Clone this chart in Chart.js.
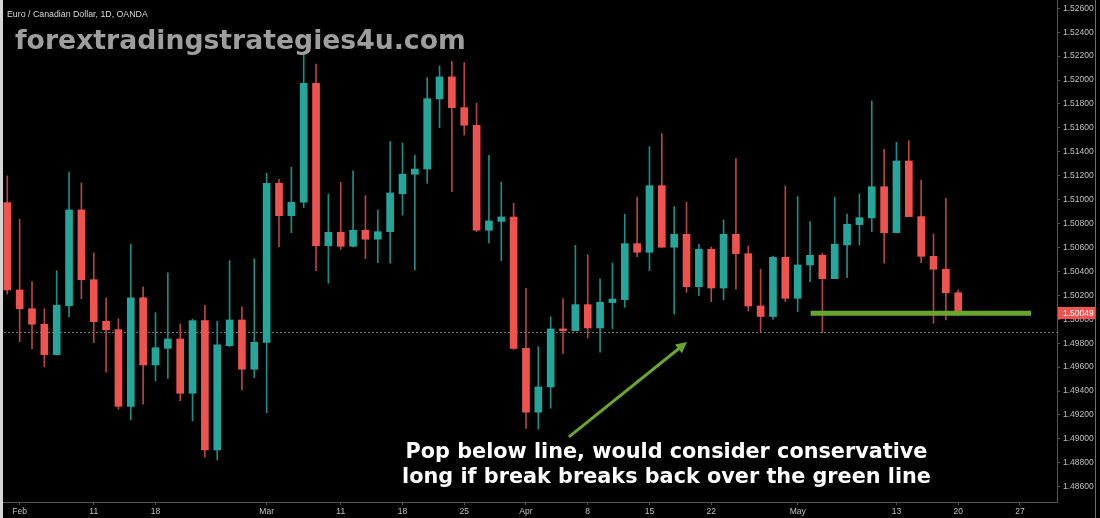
<!doctype html>
<html>
<head>
<meta charset="UTF-8" />
<title>Euro / Canadian Dollar, 1D</title>
<script src="https://cdn.jsdelivr.net/npm/chart.js"></script>
<style>
  html, body { margin: 0; padding: 0; background: #000; }
  #wrap { width: 1100px; height: 518px; position: relative; }
</style>
</head>
<body>
<div id="wrap"><canvas id="myChart"></canvas></div>
<script>
// trading days, one candle each (x = index)
var dates = [
  '2019-01-31',
  '2019-02-01', '2019-02-04', '2019-02-05', '2019-02-06', '2019-02-07', '2019-02-08',
  '2019-02-11', '2019-02-12', '2019-02-13', '2019-02-14', '2019-02-15',
  '2019-02-18', '2019-02-19', '2019-02-20', '2019-02-21', '2019-02-22',
  '2019-02-25', '2019-02-26', '2019-02-27', '2019-02-28',
  '2019-03-01', '2019-03-04', '2019-03-05', '2019-03-06', '2019-03-07', '2019-03-08',
  '2019-03-11', '2019-03-12', '2019-03-13', '2019-03-14', '2019-03-15',
  '2019-03-18', '2019-03-19', '2019-03-20', '2019-03-21', '2019-03-22',
  '2019-03-25', '2019-03-26', '2019-03-27', '2019-03-28', '2019-03-29',
  '2019-04-01', '2019-04-02', '2019-04-03', '2019-04-04', '2019-04-05',
  '2019-04-08', '2019-04-09', '2019-04-10', '2019-04-11', '2019-04-12',
  '2019-04-15', '2019-04-16', '2019-04-17', '2019-04-18', '2019-04-19',
  '2019-04-22', '2019-04-23', '2019-04-24', '2019-04-25', '2019-04-26',
  '2019-04-29', '2019-04-30', '2019-05-01', '2019-05-02', '2019-05-03',
  '2019-05-06', '2019-05-07', '2019-05-08', '2019-05-09', '2019-05-10',
  '2019-05-13', '2019-05-14', '2019-05-15', '2019-05-16', '2019-05-17',
  '2019-05-20'
];

var opens = [
  1.50975,
  1.50245, 1.50088, 1.49958, 1.49704, 1.50113, 1.50914,
  1.50331, 1.49983, 1.49913, 1.49272, 1.50180,
  1.49618, 1.49757, 1.49835, 1.49381, 1.49988,
  1.48907, 1.49779, 1.49994, 1.49582,
  1.49807, 1.51137, 1.50866, 1.50978, 1.51973, 1.50615,
  1.50727, 1.50610, 1.50744, 1.50669, 1.50732,
  1.51050, 1.51212, 1.51256, 1.51842, 1.52026,
  1.51769, 1.51622, 1.50744, 1.50818, 1.50855,
  1.49757, 1.49223, 1.49434, 1.49919, 1.49904,
  1.50122, 1.49927, 1.50139, 1.50164, 1.50632,
  1.50560, 1.51117, 1.50602, 1.50710, 1.50272,
  1.50585, 1.50261, 1.50710, 1.50548, 1.50111,
  1.50023, 1.50518, 1.50175, 1.50454, 1.50535,
  1.50339, 1.50621, 1.50791, 1.50847, 1.51108,
  1.50724, 1.51323, 1.50858, 1.50526, 1.50418,
  1.50222
];

var highs = [
  1.51198,
  1.50836, 1.50314, 1.50088, 1.50406, 1.51231, 1.51139,
  1.50554, 1.50180, 1.50005, 1.50627, 1.50270,
  1.50055, 1.50389, 1.49960, 1.50000, 1.50117,
  1.49983, 1.50490, 1.50103, 1.50506,
  1.51220, 1.51170, 1.51271, 1.52235, 1.52134, 1.51047,
  1.51145, 1.51240, 1.51033, 1.50914, 1.51485,
  1.51474, 1.51371, 1.52020, 1.52118, 1.52157,
  1.52145, 1.51806, 1.51371, 1.51148, 1.50970,
  1.50259, 1.49771, 1.50019, 1.50172, 1.50618,
  1.50540, 1.50337, 1.50470, 1.50878, 1.51022,
  1.51443, 1.51552, 1.50941, 1.50978, 1.50627,
  1.50604, 1.50830, 1.51343, 1.50613, 1.50418,
  1.50529, 1.51114, 1.51025, 1.50816, 1.50552,
  1.51020, 1.50880, 1.51047, 1.51825, 1.51421,
  1.51480, 1.51493, 1.51164, 1.50713, 1.51011,
  1.50245
];

var lows = [
  1.50209,
  1.49812, 1.49754, 1.49603, 1.49700, 1.50019, 1.50172,
  1.49804, 1.49557, 1.49247, 1.49160, 1.49289,
  1.49484, 1.49506, 1.49319, 1.49149, 1.48846,
  1.48823, 1.49771, 1.49409, 1.49511,
  1.49219, 1.50607, 1.50724, 1.50933, 1.50406, 1.50301,
  1.50585, 1.50605, 1.50506, 1.50473, 1.50468,
  1.50869, 1.50412, 1.51137, 1.51602, 1.51067,
  1.51541, 1.50732, 1.50638, 1.50490, 1.49746,
  1.49088, 1.49080, 1.49256, 1.49715, 1.49904,
  1.49843, 1.49724, 1.49919, 1.50100, 1.50523,
  1.50406, 1.50602, 1.50042, 1.50226, 1.50197,
  1.50147, 1.50161, 1.50251, 1.50069, 1.49894,
  1.50001, 1.50147, 1.50063, 1.50314, 1.49888,
  1.50339, 1.50348, 1.50621, 1.50732, 1.50468,
  1.50724, 1.50858, 1.50473, 1.49966, 1.49994,
  1.50030
];

var closes = [
  1.50245,
  1.50088, 1.49958, 1.49704, 1.50117, 1.50914, 1.50331,
  1.49980, 1.49913, 1.49272, 1.50180, 1.49618,
  1.49762, 1.49835, 1.49381, 1.49988, 1.48907,
  1.49785, 1.49994, 1.49582, 1.49807,
  1.51137, 1.50866, 1.50978, 1.51973, 1.50615, 1.50727,
  1.50610, 1.50744, 1.50669, 1.50732, 1.51056,
  1.51212, 1.51256, 1.51844, 1.52026, 1.51769,
  1.51622, 1.50744, 1.50822, 1.50855, 1.49757,
  1.49223, 1.49434, 1.49919, 1.49904, 1.50122,
  1.49927, 1.50142, 1.50169, 1.50632, 1.50560,
  1.51117, 1.50602, 1.50710, 1.50272, 1.50585,
  1.50261, 1.50710, 1.50548, 1.50111, 1.50023,
  1.50518, 1.50175, 1.50454, 1.50535, 1.50339,
  1.50627, 1.50794, 1.50849, 1.51108, 1.50724,
  1.51323, 1.50858, 1.50526, 1.50418, 1.50222,
  1.50049
];

// time axis labels (index of the day they sit on)
var xTickIdx  = [1, 7, 12, 21, 27, 32, 37, 42, 47, 52, 57, 64, 72, 77, 82];
var xTickText = ['Feb', '11', '18', 'Mar', '11', '18', '25', 'Apr', '8', '15', '22', 'May', '13', '20', '27'];

// price axis labels
var yTicks = [1.486, 1.488, 1.490, 1.492, 1.494, 1.496, 1.498, 1.500, 1.502, 1.504, 1.506,
              1.508, 1.510, 1.512, 1.514, 1.516, 1.518, 1.520, 1.522, 1.524, 1.526];

// drawings, in chart units
var refLevel = 1.4989;
var support = { price: 1.5005, from: 65.05, to: 82.9 };
var arrowFrom = [45.48, 1.49016];
var arrowTo = [55.04, 1.49810];
var noteLines = ['Pop below line, would consider conservative', 'long if break breaks back over the green line'];
var noteX = 53.38;
var noteY = [1.48840, 1.48630];

var symbolTitle = 'Euro / Canadian Dollar, 1D, OANDA';
var watermark = 'forextradingstrategies4u.com';

var upColor = '#26a69a', downColor = '#ef5350';
var upWick = '#1c8d83', downWick = '#b74343';
var green = '#6aa62e';

function fitSize(c, text, font, width) {
    c.font = font.replace('%s', '100px');
    return 100 * width / c.measureText(text).width;
}

var overlay = {
    id: 'overlay',
    beforeDraw: function (chart) {
        var c = chart.ctx;
        c.save();
        c.fillStyle = '#000';
        c.fillRect(0, 0, chart.width, chart.height);
        c.restore();
    },
    beforeDatasetsDraw: function (chart) {
        var c = chart.ctx, ys = chart.scales.y, area = chart.chartArea;
        var yr = Math.round(ys.getPixelForValue(refLevel)) + 0.5;
        c.save();
        c.strokeStyle = '#787878';
        c.lineWidth = 1;
        c.setLineDash([2, 2]);
        c.beginPath();
        c.moveTo(area.left, yr);
        c.lineTo(area.right, yr);
        c.stroke();
        c.restore();
    },
    afterDatasetsDraw: function (chart) {
        var c = chart.ctx, xs = chart.scales.x, ys = chart.scales.y;
        c.save();
        // support line
        var sy = ys.getPixelForValue(support.price);
        c.strokeStyle = green;
        c.lineWidth = 5;
        c.beginPath();
        c.moveTo(xs.getPixelForValue(support.from), sy);
        c.lineTo(xs.getPixelForValue(support.to), sy);
        c.stroke();

        // arrow
        var x0 = xs.getPixelForValue(arrowFrom[0]), y0 = ys.getPixelForValue(arrowFrom[1]);
        var x1 = xs.getPixelForValue(arrowTo[0]), y1 = ys.getPixelForValue(arrowTo[1]);
        var ang = Math.atan2(y1 - y0, x1 - x0), hl = 11, hw = 5.5;
        c.strokeStyle = green;
        c.fillStyle = green;
        c.lineWidth = 3;
        c.beginPath();
        c.moveTo(x0, y0);
        c.lineTo(x1 - Math.cos(ang) * hl * 0.8, y1 - Math.sin(ang) * hl * 0.8);
        c.stroke();
        c.beginPath();
        c.moveTo(x1, y1);
        c.lineTo(x1 - Math.cos(ang) * hl - Math.sin(ang) * hw, y1 - Math.sin(ang) * hl + Math.cos(ang) * hw);
        c.lineTo(x1 - Math.cos(ang) * hl + Math.sin(ang) * hw, y1 - Math.sin(ang) * hl - Math.cos(ang) * hw);
        c.closePath();
        c.fill();

        // note text
        var nf = 'bold %s "DejaVu Sans", Verdana, sans-serif';
        var ns = fitSize(c, noteLines[0], nf, 522);
        c.font = nf.replace('%s', ns.toFixed(2) + 'px');
        c.fillStyle = '#ffffff';
        c.textAlign = 'center';
        c.textBaseline = 'alphabetic';
        var nx = xs.getPixelForValue(noteX);
        c.fillText(noteLines[0], nx, ys.getPixelForValue(noteY[0]));
        c.fillText(noteLines[1], nx, ys.getPixelForValue(noteY[1]));
        c.restore();
    },
    afterDraw: function (chart) {
        var c = chart.ctx, ys = chart.scales.y, area = chart.chartArea;
        c.save();
        // last price tag
        var last = closes[closes.length - 1];
        var py = ys.getPixelForValue(last);
        c.fillStyle = downColor;
        c.fillRect(area.right + 1, Math.round(py) - 6, 38, 12);
        c.fillStyle = '#ffffff';
        c.font = '8.5px "Liberation Sans", Arial, sans-serif';
        c.textAlign = 'left';
        c.textBaseline = 'middle';
        c.fillText(last.toFixed(5), area.right + 6, py);

        // symbol line
        var tf = '%s "Liberation Sans", Arial, sans-serif';
        c.font = tf.replace('%s', fitSize(c, symbolTitle, tf, 141).toFixed(2) + 'px');
        c.fillStyle = '#d8d8d8';
        c.textBaseline = 'alphabetic';
        c.fillText(symbolTitle, 7, 16.5);

        // watermark
        var wf = 'bold %s "DejaVu Sans", Verdana, sans-serif';
        c.font = wf.replace('%s', fitSize(c, watermark, wf, 451).toFixed(2) + 'px');
        c.fillStyle = '#9e9e9e';
        c.fillText(watermark, 15, 49);

        // frame edges of the screenshot
        c.fillStyle = '#d6d6d6';
        c.fillRect(0, 0, 3, chart.height);
        c.fillStyle = '#6e6e6e';
        c.fillRect(1095, 0, 1, chart.height);
        c.restore();
    }
};

var ctx = document.getElementById('myChart').getContext('2d');
Chart.defaults.font.family = '"Liberation Sans", Arial, sans-serif';

var bodyColors = closes.map(function (c, i) { return c >= opens[i] ? upColor : downColor; });
var wickColors = closes.map(function (c, i) { return c >= opens[i] ? upWick : downWick; });

var myChart = new Chart(ctx, {
    type: 'bar',
    data: {
        datasets: [{
            label: 'body',
            data: dates.map(function (d, i) { return { x: i, y: [opens[i], closes[i]] }; }),
            backgroundColor: bodyColors,
            barThickness: 7,
            minBarLength: 1,
            grouped: false,
            order: 0
        }, {
            label: 'wick',
            data: dates.map(function (d, i) { return { x: i, y: [lows[i], highs[i]] }; }),
            backgroundColor: wickColors,
            barThickness: 1,
            grouped: false,
            order: 1
        }]
    },
    options: {
        responsive: true,
        maintainAspectRatio: false,
        animation: false,
        layout: { padding: 0 },
        plugins: { legend: { display: false }, tooltip: { enabled: false } },
        scales: {
            x: {
                type: 'linear',
                offset: false,
                min: -0.591,
                max: 85.0,
                grid: { offset: false, drawOnChartArea: false, drawTicks: true, tickLength: 3, color: '#555' },
                border: { color: '#555' },
                ticks: {
                    color: '#c0c0c0',
                    font: { size: 8.5 },
                    padding: 2,
                    maxRotation: 0,
                    autoSkip: false,
                    callback: function (v) {
                        var k = xTickIdx.indexOf(v);
                        return k < 0 ? '' : xTickText[k];
                    }
                },
                afterBuildTicks: function (s) {
                    s.ticks = xTickIdx.map(function (v) { return { value: v }; });
                },
                afterFit: function (s) {
                    s.height = 16;
                    s.paddingLeft = 0;
                    s.paddingRight = 0;
                }
            },
            y: {
                position: 'right',
                min: 1.48472,
                max: 1.52669,
                grid: { drawOnChartArea: false, drawTicks: true, tickLength: 3, color: '#555' },
                border: { color: '#555' },
                ticks: {
                    color: '#c0c0c0',
                    font: { size: 8.5 },
                    padding: 3,
                    callback: function (v) { return v.toFixed(5); }
                },
                afterBuildTicks: function (s) {
                    s.ticks = yTicks.map(function (v) { return { value: v }; });
                },
                afterFit: function (s) {
                    s.width = 43;
                    s.paddingTop = 0;
                    s.paddingBottom = 0;
                }
            }
        }
    },
    plugins: [overlay]
});
</script>
</body>
</html>
